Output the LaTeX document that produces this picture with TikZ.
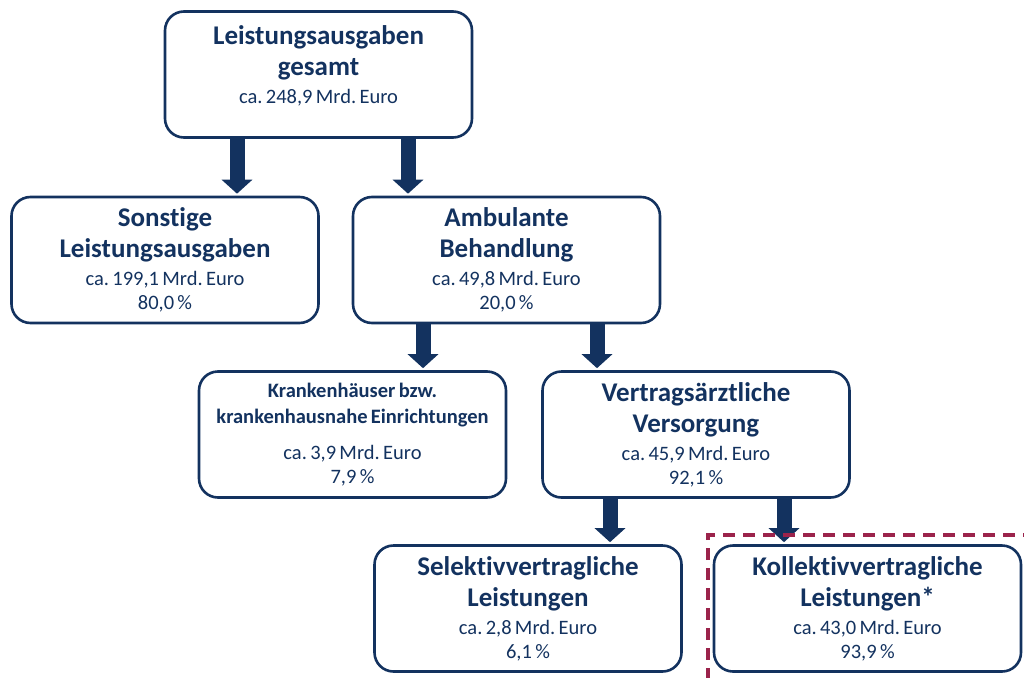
\documentclass[tikz,border=0pt]{standalone}
\usepackage{fontspec}
\setmainfont{Carlito}[Ligatures=NoCommon]
\usepackage{tikz}
\usetikzlibrary{arrows.meta}
\definecolor{navy}{HTML}{13325F}
\definecolor{weinrot}{RGB}{155,35,75}
\frenchspacing
\newcommand{\ttl}[1]{{\fontsize{27}{31}\selectfont\bfseries #1\par}\vspace{4pt}}
\newcommand{\ttlk}[1]{{\fontsize{20.5}{26}\selectfont\bfseries #1\par}}
\newcommand{\amt}[1]{{\fontsize{20.5}{24}\selectfont #1\par}}
\tikzset{
	box/.style={draw=navy,line width=2.6pt,rounded corners=19pt,minimum width=307pt,minimum height=126pt,text width=300pt,align=center,text=navy,inner sep=0pt},
	blockarrow/.style={draw=navy,line width=15pt,-{Triangle[width=30pt,length=14pt]},shorten >=2pt}
}
\begin{document}
	\begin{tikzpicture}[x=1pt,y=-1pt]
	\useasboundingbox (0,0) rectangle (1024,677);
	\node[box] (ges) at (318.5,74.5) {\ttl{Leistungsausgaben\\gesamt}\amt{ca. 248,9 Mrd. Euro}\vspace{18pt}};
	\node[box] (sonst) at (165,260) {\ttl{Sonstige\\Leistungsausgaben}\amt{ca. 199,1 Mrd. Euro\\80,0 \%}};
	\node[box] (amb) at (506.5,260) {\ttl{Ambulante\\Behandlung}\amt{ca. 49,8 Mrd. Euro\\20,0 \%}};
	\node[box] (kh) at (352.5,434.5) {\ttlk{Krankenhäuser bzw.\\krankenhausnahe Einrichtungen}\vspace{12pt}\amt{ca. 3,9 Mrd. Euro\\7,9 \%}};
	\node[box] (va) at (696,434.5) {\ttl{Vertragsärztliche\\Versorgung}\amt{ca. 45,9 Mrd. Euro\\92,1 \%}};
	\node[box] (sel) at (528,608.5) {\ttl{Selektivvertragliche\\Leistungen}\amt{ca. 2,8 Mrd. Euro\\6,1 \%}};
	\node[box] (kol) at (867.5,608.5) {\ttl{Kollektivvertragliche\\Leistungen*}\amt{ca. 43,0 Mrd. Euro\\93,9 \%}};
	\draw[blockarrow] (ges.south -| 237,0) -- (sonst.north -| 237,0);
	\draw[blockarrow] (ges.south -| 408,0) -- (amb.north -| 408,0);
	\draw[blockarrow] (amb.south -| 423,0) -- (kh.north -| 423,0);
	\draw[blockarrow] (amb.south -| 597,0) -- (va.north -| 597,0);
	\draw[blockarrow] (va.south -| 610,0) -- (sel.north -| 610,0);
	\draw[blockarrow] (va.south -| 784,0) -- (kol.north -| 784,0);
	\draw[weinrot,line width=3.4pt,dash pattern=on 12pt off 8pt] (708,700) -- (708,535) -- (1040,535);
	\end{tikzpicture}
\end{document}
